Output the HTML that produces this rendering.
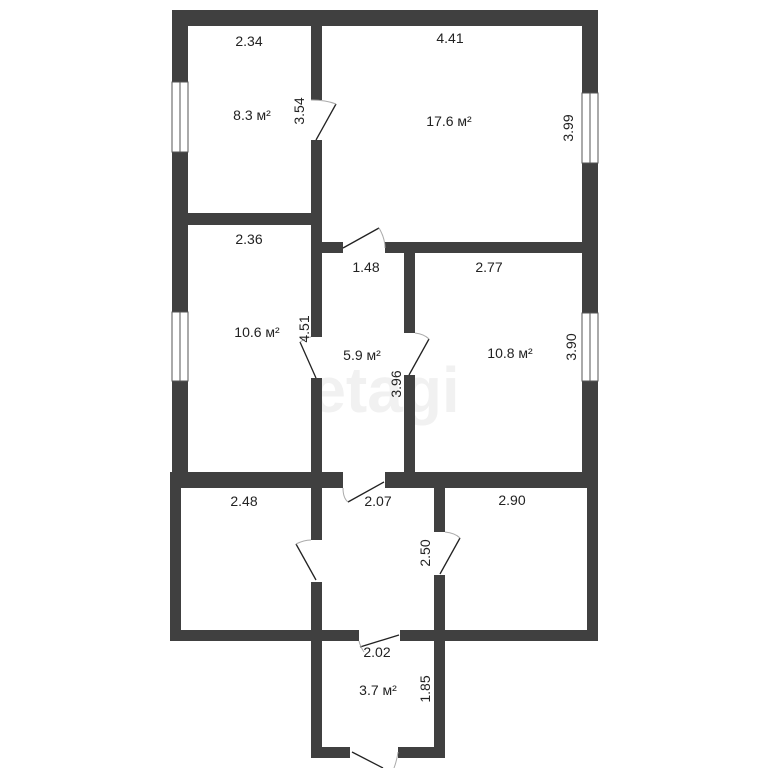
<!DOCTYPE html>
<html><head><meta charset="utf-8"><style>
html,body{margin:0;padding:0;background:#fff;}
svg{display:block;}
text{font-family:"Liberation Sans",sans-serif;font-size:14px;fill:#222;}
</style></head><body>
<svg width="768" height="768" viewBox="0 0 768 768" xmlns="http://www.w3.org/2000/svg">
<rect width="768" height="768" fill="#fff"/>
<text x="385" y="412" text-anchor="middle" style="font-size:64px;font-weight:bold;fill:#f1f1f1">etagi</text>
<g fill="#404040">
<!-- outer top -->
<rect x="172" y="10" width="426" height="16"/>
<rect x="172" y="10" width="16" height="72"/>
<rect x="172" y="152" width="16" height="160"/>
<rect x="172" y="381" width="16" height="92"/>
<rect x="582" y="10" width="16" height="83"/>
<rect x="582" y="163" width="16" height="150"/>
<rect x="582" y="381" width="16" height="92"/>
<!-- inner verticals upper -->
<rect x="311" y="26" width="11" height="74"/>
<rect x="311" y="140" width="11" height="197"/>
<rect x="311" y="378" width="11" height="95"/>
<rect x="188" y="213" width="123" height="12"/>
<rect x="322" y="242" width="21" height="11"/>
<rect x="385" y="242" width="197" height="11"/>
<rect x="404" y="253" width="11" height="80"/>
<rect x="404" y="375" width="11" height="98"/>
<!-- middle horizontal -->
<rect x="170" y="472" width="173" height="16"/>
<rect x="385" y="472" width="213" height="16"/>
<!-- lower -->
<rect x="170" y="472" width="11" height="169"/>
<rect x="587" y="472" width="11" height="169"/>
<rect x="170" y="630" width="189" height="11"/>
<rect x="400" y="630" width="198" height="11"/>
<rect x="311" y="488" width="11" height="52"/>
<rect x="311" y="582" width="11" height="176"/>
<rect x="434" y="488" width="11" height="44"/>
<rect x="434" y="575" width="11" height="183"/>
<rect x="311" y="747" width="39" height="11"/>
<rect x="398" y="747" width="47" height="11"/>
</g>
<!-- windows -->
<g fill="#fff" stroke="#555" stroke-width="1">
<rect x="172" y="82" width="16" height="70"/>
<rect x="172" y="312" width="16" height="69"/>
<rect x="582" y="93" width="16" height="70"/>
<rect x="582" y="313" width="16" height="68"/>
</g>
<g stroke="#555" stroke-width="1">
<line x1="180" y1="82" x2="180" y2="152"/>
<line x1="180" y1="312" x2="180" y2="381"/>
<line x1="590" y1="93" x2="590" y2="163"/>
<line x1="590" y1="313" x2="590" y2="381"/>
</g>
<!-- doors -->
<g stroke="#222" stroke-width="1.3" fill="none">
<line x1="316" y1="140" x2="336" y2="104"/>
<path d="M311 100 Q326 100 336 104" stroke="#aaa" stroke-width="1"/>
<line x1="343" y1="248" x2="379" y2="228"/>
<path d="M379 228 Q385 238 385 248" stroke="#aaa" stroke-width="1"/>
<line x1="316" y1="378" x2="300" y2="342"/>
<path d="M300 342 Q308 337 311 337" stroke="#aaa" stroke-width="1"/>
<line x1="409" y1="375" x2="429" y2="339"/>
<path d="M415 333 Q424 334 429 339" stroke="#aaa" stroke-width="1"/>
<line x1="348" y1="502" x2="384" y2="482"/>
<path d="M343 488 Q343 498 348 502" stroke="#aaa" stroke-width="1"/>
<line x1="316" y1="580" x2="296" y2="544"/>
<path d="M296 544 Q304 540 311 540" stroke="#aaa" stroke-width="1"/>
<line x1="440" y1="574" x2="460" y2="538"/>
<path d="M445 532 Q455 533 460 538" stroke="#aaa" stroke-width="1"/>
<line x1="360" y1="647" x2="399" y2="635"/>
<path d="M359 641 Q360 646 364 652" stroke="#aaa" stroke-width="1"/>
<line x1="352" y1="752" x2="383" y2="768"/>
<path d="M398 752 Q397 760 394 768" stroke="#aaa" stroke-width="1"/>
</g>
<!-- labels -->
<text x="249" y="46" text-anchor="middle">2.34</text>
<text x="450" y="43" text-anchor="middle">4.41</text>
<text x="252" y="120" text-anchor="middle">8.3 м²</text>
<text x="449" y="126" text-anchor="middle">17.6 м²</text>
<text transform="translate(304,111) rotate(-90)" text-anchor="middle">3.54</text>
<text transform="translate(573,128) rotate(-90)" text-anchor="middle">3.99</text>
<text x="249" y="244" text-anchor="middle">2.36</text>
<text x="366" y="272" text-anchor="middle">1.48</text>
<text x="489" y="272" text-anchor="middle">2.77</text>
<text x="257" y="337" text-anchor="middle">10.6 м²</text>
<text transform="translate(309,329) rotate(-90)" text-anchor="middle">4.51</text>
<text x="362" y="360" text-anchor="middle">5.9 м²</text>
<text x="510" y="358" text-anchor="middle">10.8 м²</text>
<text transform="translate(401,384) rotate(-90)" text-anchor="middle">3.96</text>
<text transform="translate(576,347) rotate(-90)" text-anchor="middle">3.90</text>
<text x="244" y="506" text-anchor="middle">2.48</text>
<text x="378" y="506" text-anchor="middle">2.07</text>
<text x="512" y="505" text-anchor="middle">2.90</text>
<text transform="translate(430,553) rotate(-90)" text-anchor="middle">2.50</text>
<text x="377" y="657" text-anchor="middle">2.02</text>
<text x="378" y="695" text-anchor="middle">3.7 м²</text>
<text transform="translate(430,689) rotate(-90)" text-anchor="middle">1.85</text>
</svg>
</body></html>
